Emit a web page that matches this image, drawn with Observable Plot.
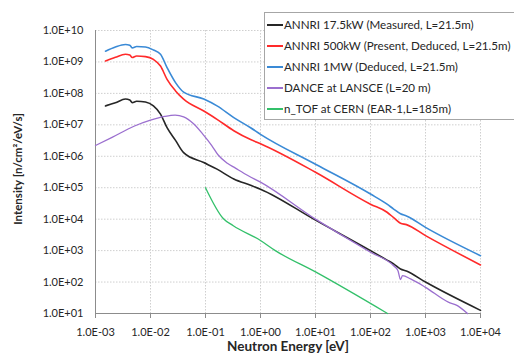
<!DOCTYPE html>
<html>
<head>
<meta charset="utf-8">
<script src="https://cdn.jsdelivr.net/npm/d3@7"></script>
<script src="https://cdn.jsdelivr.net/npm/@observablehq/plot@0.6"></script>
<style>
  html, body { margin: 0; padding: 0; background: #fff; }
  #wrap { position: relative; width: 514px; height: 360px; font-family: Lato, "Noto Sans", sans-serif; }
  #legend { position: absolute; left: 264px; top: 12px; width: 262px; height: 108px; border: 1px solid #a6a6a6; background: #fff; box-sizing: border-box; padding-top: 1px; }
  .row { height: 21px; display: flex; align-items: center; font-size: 11.6px; color: #262626; white-space: nowrap; }
  .sw { width: 16px; height: 0; border-top: 2px solid; margin-left: 2px; margin-right: 1px; }
</style>
</head>
<body>
<div id="wrap"></div>
<script>
// ---- data ----
const seriesNames = [
  "ANNRI 17.5kW (Measured, L=21.5m)",
  "ANNRI 500kW (Present, Deduced, L=21.5m)",
  "ANNRI 1MW (Deduced, L=21.5m)",
  "DANCE at LANSCE (L=20 m)",
  "n_TOF at CERN (EAR-1,L=185m)"
];
const seriesColors = ["#262626", "#ff2a2a", "#3a8ad6", "#9b6fcf", "#33c06a"];

const energyANNRI = [1.52e-3, 2.3e-3, 3.5e-3, 4.2e-3, 4.65e-3, 5.6e-3, 8.1e-3, 1.13e-2, 1.52e-2, 2.0e-2, 2.85e-2, 4.0e-2, 9.3e-2, 0.162, 0.327, 0.66, 1, 10, 100, 200, 263, 351, 450, 1000, 10000];
const intensity175kW = [4.0e7, 5.0e7, 6.6e7, 6.2e7, 5.1e7, 5.6e7, 5.3e7, 4.0e7, 2.2e7, 8.1e6, 3.2e6, 1.3e6, 6.3e5, 3.9e5, 1.9e5, 1.2e5, 9.0e4, 9.3e3, 1.0e3, 5.0e2, 3.8e2, 2.6e2, 2.25e2, 1.0e2, 12.6];
const intensity500kW = [1.07e9, 1.4e9, 1.75e9, 1.65e9, 1.38e9, 1.55e9, 1.48e9, 1.2e9, 7.4e8, 2.8e8, 1.2e8, 6.6e7, 2.75e7, 1.5e7, 6.5e6, 3.4e6, 2.5e6, 3.1e5, 3.0e4, 1.66e4, 1.12e4, 7.4e3, 6.7e3, 3.0e3, 3.5e2];
const intensity1MW = [2.2e9, 3.0e9, 3.6e9, 3.4e9, 2.8e9, 3.1e9, 3.0e9, 2.4e9, 1.75e9, 6.6e8, 2.2e8, 1.1e8, 6.6e7, 4.0e7, 1.7e7, 8.1e6, 5.0e6, 5.6e5, 6.3e4, 3.0e4, 2.1e4, 1.48e4, 1.27e4, 5.5e3, 6.9e2];

const energyDANCE = [1e-3, 2e-3, 5e-3, 1e-2, 1.8e-2, 2.8e-2, 4e-2, 6e-2, 9e-2, 0.13, 0.17, 0.25, 0.35, 0.6, 1, 10, 30, 100, 263, 316, 351, 382, 535, 1000, 2600, 3800, 5800];
const intensityDANCE = [2.2e6, 4.0e6, 9.0e6, 1.4e7, 1.85e7, 2.05e7, 1.8e7, 1.1e7, 5.0e6, 2.2e6, 1.1e6, 6.0e5, 4.2e5, 2.4e5, 1.5e5, 1.0e4, 3.1e3, 8.9e2, 3.3e2, 2.3e2, 1.2e2, 1.6e2, 1.26e2, 68, 23, 17.8, 10];

const energyNTOF = [0.1, 0.21, 0.32, 1, 1.86, 10, 204];
const intensityNTOF = [1e5, 1.05e4, 6.2e3, 2.1e3, 1.0e3, 2.1e2, 10];

const xTicks = [1e-3, 1e-2, 1e-1, 1, 10, 100, 1000, 10000];
const xTickLabels = ["1.0E-03", "1.0E-02", "1.0E-01", "1.0E+00", "1.0E+01", "1.0E+02", "1.0E+03", "1.0E+04"];
const yTicks = [1e1, 1e2, 1e3, 1e4, 1e5, 1e6, 1e7, 1e8, 1e9, 1e10];
const yTickLabels = ["1.0E+01", "1.0E+02", "1.0E+03", "1.0E+04", "1.0E+05", "1.0E+06", "1.0E+07", "1.0E+08", "1.0E+09", "1.0E+10"];
const xTitle = "Neutron Energy [eV]";
const yTitle = "Intensity [n/cm²/eV/s]";

// ---- build tables ----
const toRows = (es, is, k) => es.map((e, i) => ({E: e, I: is[i], k}));
const rows = [
  toRows(energyANNRI, intensity175kW, 0),
  toRows(energyANNRI, intensity500kW, 1),
  toRows(energyANNRI, intensity1MW, 2),
  toRows(energyDANCE, intensityDANCE, 3),
  toRows(energyNTOF, intensityNTOF, 4)
];

const xfmt = d => xTickLabels[xTicks.findIndex(t => Math.abs(Math.log10(t) - Math.log10(d)) < 1e-6)];
const yfmt = d => yTickLabels[yTicks.findIndex(t => Math.abs(Math.log10(t) - Math.log10(d)) < 1e-6)];

const grid = {stroke: "#cfcfcf", strokeDasharray: "1.5,1.5", strokeWidth: 1};

const chart = Plot.plot({
  width: 514,
  height: 360,
  marginLeft: 95,
  marginRight: 34,
  marginTop: 30,
  marginBottom: 47,
  style: {fontFamily: "Lato, 'Noto Sans', sans-serif", fontSize: "11px", color: "#262626", background: "#fff"},
  x: {type: "log", domain: [1e-3, 1e4]},
  y: {type: "log", domain: [10, 1e10]},
  marks: [
    Plot.ruleX(xTicks.slice(1), {...grid}),
    Plot.ruleY(yTicks.slice(1), {...grid}),
    Plot.axisX({ticks: xTicks, tickFormat: xfmt, tickSize: 5, tickPadding: 10, stroke: "#8c8c8c", label: null, fill: "#262626"}),
    Plot.axisY({ticks: yTicks, tickFormat: yfmt, tickSize: 0, tickPadding: 12, label: null, fill: "#262626"}),
    Plot.ruleY([10], {stroke: "#8c8c8c"}),
    Plot.ruleX([1e-3], {stroke: "#8c8c8c"}),
    ...rows.map((r, i) => Plot.line(r, {x: "E", y: "I", stroke: seriesColors[i], strokeWidth: i < 3 ? 1.6 : 1.3, curve: "monotone-x"})),
    Plot.text([xTitle], {frameAnchor: "bottom", dy: 37, fontWeight: "bold", fontSize: 13.5, fill: "#262626"}),
    Plot.text([yTitle], {frameAnchor: "left", textAnchor: "middle", dx: -77, dy: -3, rotate: -90, fontWeight: "bold", fontSize: 11.5, fill: "#262626"})
  ]
});

const wrap = document.getElementById("wrap");
wrap.appendChild(chart);

const legend = document.createElement("div");
legend.id = "legend";
seriesNames.forEach((n, i) => {
  const row = document.createElement("div");
  row.className = "row";
  const sw = document.createElement("span");
  sw.className = "sw";
  sw.style.borderTopColor = seriesColors[i];
  const t = document.createElement("span");
  t.textContent = n;
  row.appendChild(sw);
  row.appendChild(t);
  legend.appendChild(row);
});
wrap.appendChild(legend);
</script>
</body>
</html>
